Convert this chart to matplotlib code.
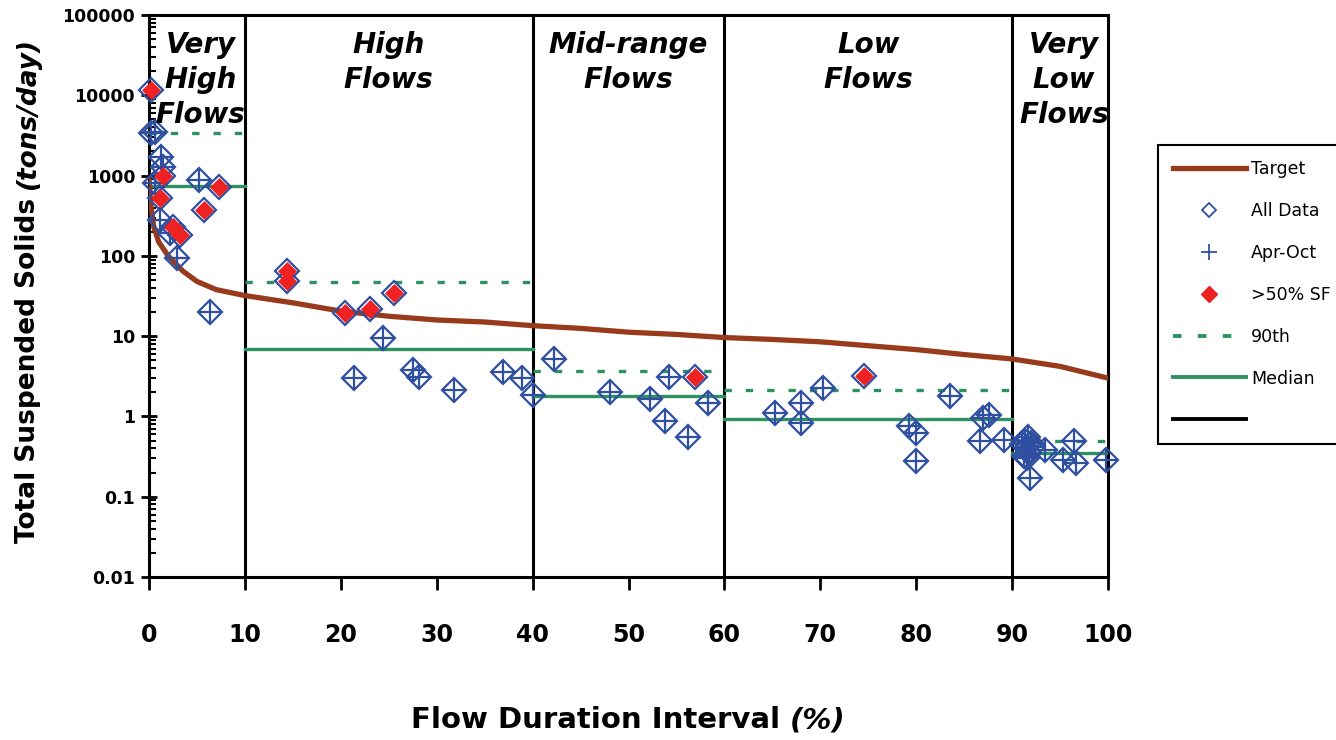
import matplotlib
matplotlib.use("Agg")
import matplotlib.pyplot as plt
from matplotlib.lines import Line2D
from matplotlib.ticker import LogLocator, FixedLocator, NullFormatter

# Load duration curve, total suspended solids (tons/day)
target_pct = [0, 0.2, 0.5, 1, 2, 3.5, 5, 7, 10, 15, 20, 25, 30, 35, 40, 45, 50,
              55, 60, 65, 70, 75, 80, 85, 90, 95, 100]
target_tss = [900, 420, 230, 150, 100, 65, 48, 38, 32, 26, 20.5, 17.7, 15.9, 15,
              13.5, 12.5, 11.2, 10.5, 9.6, 9.1, 8.5, 7.6, 6.8, 5.9, 5.2, 4.2, 3.0]

# Apr-Oct samples (shown as diamond + plus)
aproct_pct = [0.2, 0.6, 1.3, 1.5, 0.6, 5.2, 1.1, 2.2, 2.9, 6.4,
              24.4, 21.4, 27.5, 28.2, 31.8, 36.9, 38.9, 40.0,
              42.2, 48.1, 52.2, 54.2, 53.8, 56.2, 58.3,
              65.3, 68.0, 68.0, 70.3, 79.3, 80.0, 80.0, 83.5, 87.0, 87.6, 86.7, 89.2,
              91.0, 91.3, 91.5, 91.7, 91.8, 92.0, 92.2, 91.2, 91.6, 91.9, 93.4,
              95.3, 96.5, 96.7, 99.8]
aproct_tss = [3400, 3500, 1720, 1290, 810, 870, 280, 195, 93, 20,
              9.4, 3.0, 3.8, 3.1, 2.14, 3.55, 3.04, 1.84,
              5.15, 2.02, 1.64, 3.13, 0.887, 0.56, 1.46,
              1.1, 1.48, 0.82, 2.24, 0.76, 0.63, 0.275, 1.8, 0.95, 1.04, 0.49, 0.51,
              0.45, 0.5, 0.4, 0.55, 0.35, 0.47, 0.42, 0.32, 0.3, 0.17, 0.38,
              0.29, 0.49, 0.26, 0.29]

# samples with >50% storm flow
sf_pct = [0.2, 1.5, 7.3, 1.1, 5.7, 2.5, 3.2, 14.4, 14.4, 20.4, 23.0, 25.5, 56.9, 74.6]
sf_tss = [11600, 980, 730, 520, 370, 230, 182, 65, 48, 19.6, 21.8, 34, 3.13, 3.19]

# flow zones
zone_edges = [0, 10, 40, 60, 90, 100]
zone_names = ["Very\nHigh\nFlows", "High\nFlows", "Mid-range\nFlows", "Low\nFlows", "Very\nLow\nFlows"]
zone_median = [740, 6.9, 1.8, 0.93, 0.355]
zone_p90 = [3400, 47, 3.7, 2.14, 0.5]

x_ticks = [0, 10, 20, 30, 40, 50, 60, 70, 80, 90, 100]
y_ticks = [0.01, 0.1, 1, 10, 100, 1000, 10000, 100000]
y_labels = ["0.01", "0.1", "1", "10", "100", "1000", "10000", "100000"]

BROWN = "#983a1c"
BLUE = "#2f4fa0"
RED = "#ee2222"
GREEN = "#2e9160"

W, H = 1336, 740
fig = plt.figure(figsize=(W / 100, H / 100), dpi=100)
ax = fig.add_axes([149 / W, 1 - 577 / H, (1108 - 149) / W, (577 - 15) / H])

ax.set_yscale("log")
ax.set_xlim(0, 100)
ax.set_ylim(0.01, 100000)

# zone boundaries
for e in zone_edges[1:-1]:
    ax.axvline(e, color="black", lw=2.2, zorder=2)

# median and 90th percentile per zone
for i in range(len(zone_median)):
    ax.plot([zone_edges[i], zone_edges[i + 1]], [zone_median[i]] * 2,
            color=GREEN, lw=2.4, zorder=3)
    ax.plot([zone_edges[i], zone_edges[i + 1]], [zone_p90[i]] * 2,
            color=GREEN, lw=2.4, dashes=(2.2, 4.2), zorder=3)

ax.plot(target_pct, target_tss, color=BROWN, lw=3.8, zorder=4, solid_capstyle="round")

# all data = apr-oct samples + storm-flow samples
all_pct = aproct_pct + sf_pct
all_tss = aproct_tss + sf_tss
ax.plot(all_pct, all_tss, ls="none", marker="D", ms=12, mfc="none",
        mec=BLUE, mew=1.6, zorder=5, clip_on=False)
ax.plot(aproct_pct, aproct_tss, ls="none", marker="+", ms=17,
        mec=BLUE, mew=1.6, zorder=5, clip_on=False)
ax.plot(sf_pct, sf_tss, ls="none", marker="D", ms=9, mfc=RED, mec=RED,
        mew=0.5, zorder=6, clip_on=False)

# zone names
for i, name in enumerate(zone_names):
    xc = (zone_edges[i] + zone_edges[i + 1]) / 2
    if i == 0:
        xc = 5.4
    if i == 4:
        xc = 95.4
    ax.text(xc, 0.972, name, transform=ax.get_xaxis_transform(), ha="center", va="top",
            fontsize=20, fontweight="bold", style="italic", linespacing=1.32, zorder=7)

# axes styling
for s in ax.spines.values():
    s.set_linewidth(2.2)
ax.yaxis.set_major_locator(FixedLocator(y_ticks))
ax.set_yticklabels(y_labels)
ax.yaxis.set_minor_locator(LogLocator(base=10, subs=range(2, 10), numticks=20))
ax.yaxis.set_minor_formatter(NullFormatter())
ax.tick_params(axis="y", which="major", direction="inout", length=12, width=2,
               labelsize=12.5, pad=4)
ax.tick_params(axis="y", which="minor", direction="in", length=5, width=1.5)
ax.set_xticks(x_ticks)
ax.tick_params(axis="x", which="major", direction="out", length=9, width=2,
               labelsize=17, pad=24)
for lab in ax.get_xticklabels() + ax.get_yticklabels():
    lab.set_fontweight("bold")

# legend
handles = [
    Line2D([], [], color=BROWN, lw=3.8),
    Line2D([], [], ls="none", marker="D", ms=7, mfc="none", mec=BLUE, mew=1.3),
    Line2D([], [], ls="none", marker="+", ms=12, mec=BLUE, mew=1.3),
    Line2D([], [], ls="none", marker="D", ms=8, mfc=RED, mec=RED),
    Line2D([], [], color=GREEN, lw=2.8, dashes=(2.2, 4.2)),
    Line2D([], [], color=GREEN, lw=2.8),
    Line2D([], [], color="black", lw=2.8),
]
labels = ["Target", "All Data", "Apr-Oct", ">50% SF", "90th", "Median", ""]
leg = fig.legend(handles, labels, loc="upper left",
                 bbox_to_anchor=(1158 / W, 1 - 145 / H), borderaxespad=0,
                 fontsize=12.5, handlelength=4.2, handletextpad=0.3,
                 labelspacing=1.38, borderpad=0.85, fancybox=False,
                 edgecolor="black", framealpha=1)
leg.get_frame().set_linewidth(1.5)


def two_part(xp, yp, first, second, size, rotation=0):
    t1 = fig.text(0, 0, first, fontsize=size, fontweight="bold", rotation=rotation,
                  ha="left", va="bottom" if rotation == 0 else "center",
                  rotation_mode="anchor")
    t2 = fig.text(0, 0, second, fontsize=size, fontweight="bold", style="italic",
                  rotation=rotation, ha="left",
                  va="bottom" if rotation == 0 else "center", rotation_mode="anchor")
    fig.canvas.draw()
    r = fig.canvas.get_renderer()
    e1 = t1.get_window_extent(r)
    e2 = t2.get_window_extent(r)
    if rotation == 0:
        total = e1.width + e2.width
        x0 = xp - total / 2
        t1.set_position((x0 / W, 1 - yp / H))
        t2.set_position(((x0 + e1.width) / W, 1 - yp / H))
    else:
        total = e1.height + e2.height
        y0 = yp + total / 2
        t1.set_position((xp / W, 1 - y0 / H))
        t2.set_position((xp / W, 1 - (y0 - e1.height) / H))


two_part(628, 734, "Flow Duration Interval ", "(%)", 21)
two_part(28, 290, "Total Suspended Solids ", "(tons/day)", 19, rotation=90)

fig.savefig("out.png", dpi=100)
